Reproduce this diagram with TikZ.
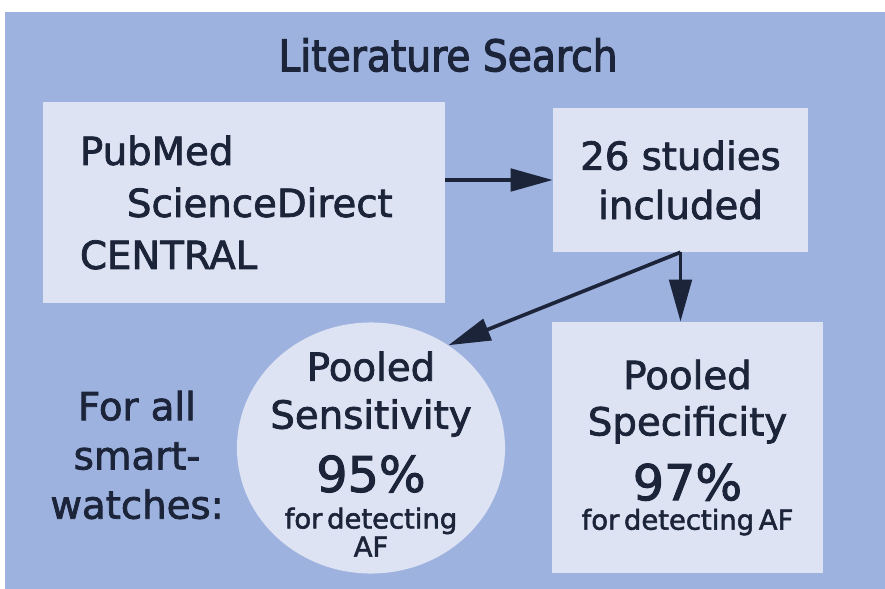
\documentclass[tikz,border=0pt]{standalone}
\usepackage{fontspec}
\setmainfont{DejaVu Sans}[FakeBold=2]
\newfontfamily\headfont{DejaVu Sans Condensed}[FakeBold=2.5]
\usetikzlibrary{arrows.meta, shapes.geometric}

\definecolor{bgblue}{RGB}{157,178,222}
\definecolor{boxblue}{RGB}{221,227,243}
\definecolor{ink}{RGB}{28,36,58}

\begin{document}
\begin{tikzpicture}[x=0.025cm, y=-0.025cm,
        panel/.style={rectangle, fill=boxblue, inner sep=0pt, text=ink},
        bigtxt/.style={font=\fontsize{27.5}{35}\selectfont, text=ink, align=center},
        flow/.style={draw=ink, line width=2.6pt, -{Triangle[length=30pt, width=16pt]}}]
    \useasboundingbox (0,0) rectangle (885,589);
    \fill[bgblue] (5,12) rectangle (885,589); % blue panel behind everything

    \path (448,55) node[text=ink, font=\headfont\fontsize{31}{36}\selectfont] (title) {Literature Search}; % heading

    % search sources and result
    \path (244,202.5) node[panel, minimum width=10.05cm, minimum height=5.025cm, text width=8.2cm, align=left,
        font=\fontsize{27.5}{37}\selectfont] (db) {PubMed\\\hspace*{1.175cm}ScienceDirect\\CENTRAL};
    \path (680.5,180) node[panel, bigtxt, minimum width=6.375cm, minimum height=3.6cm] (incl) {26 studies\\included};

    % pooled results
    \path (371,448) node[ellipse, fill=boxblue, inner sep=0pt, minimum width=6.7cm, minimum height=6.275cm] (sens) {};
    \path (sens) node[text=ink, text width=6cm, align=center, inner sep=0pt] (senstxt) at ++(0,6)
        {{\fontsize{27.5}{34}\selectfont Pooled\par Sensitivity\par}%
         {\fontsize{35}{45}\selectfont 95\%\par}%
         {\fontsize{19.5}{26}\selectfont for detecting\par}%
         {\fontsize{19.5}{20}\selectfont AF\par}};
    \path (687.5,447.5) node[panel, minimum width=6.775cm, minimum height=6.275cm, text width=6cm, align=center] (spec)
        {{\fontsize{27.5}{33}\selectfont Pooled\par Specificity\par}%
         {\fontsize{35}{46}\selectfont 97\%\par}%
         {\fontsize{19.5}{21}\selectfont for detecting AF\par}};

    \path (137,455) node[bigtxt] (watch) {For all\\smart-\\watches:}; % side note

    % arrows
    \draw[flow] (db.east |- incl.west) -- (incl.west);
    \draw[flow] (incl.south) -- (incl.south |- spec.north);
    \draw[flow] (incl.south) -- (sens.53);
\end{tikzpicture}
\end{document}
